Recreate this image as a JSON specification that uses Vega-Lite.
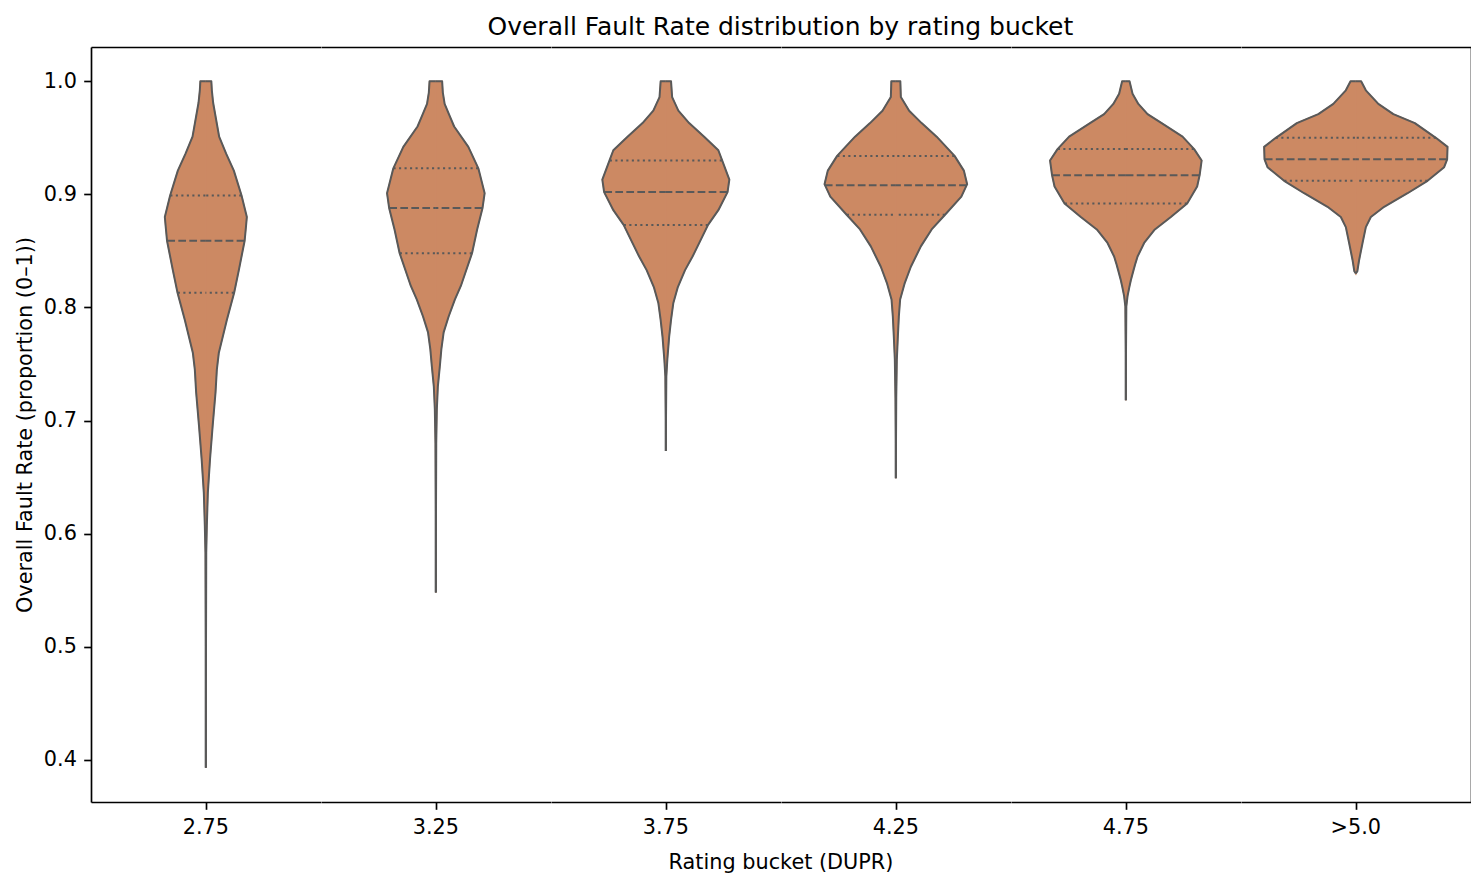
{
  "$schema": "https://vega.github.io/schema/vega-lite/v6.json",
  "padding": {"left": 14, "top": 14, "right": 0, "bottom": 0},
  "background": "white",
  "title": {
    "text": "Overall Fault Rate distribution by rating bucket",
    "fontSize": 25,
    "fontWeight": "normal",
    "color": "black",
    "anchor": "start",
    "frame": "group",
    "dx": 396.5,
    "baseline": "alphabetic",
    "offset": -12.5
  },
  "data": {
    "values": [
      {"b": "2.75", "k": "s", "i": 0, "v": 1.0, "w": 0},
      {"b": "2.75", "k": "s", "i": 1, "v": 1.0, "w": 5.5},
      {"b": "2.75", "k": "s", "i": 2, "v": 0.992, "w": 6},
      {"b": "2.75", "k": "s", "i": 3, "v": 0.981, "w": 7.3},
      {"b": "2.75", "k": "s", "i": 4, "v": 0.966, "w": 10.3},
      {"b": "2.75", "k": "s", "i": 5, "v": 0.951, "w": 13.3},
      {"b": "2.75", "k": "s", "i": 6, "v": 0.936, "w": 20.3},
      {"b": "2.75", "k": "s", "i": 7, "v": 0.921, "w": 28},
      {"b": "2.75", "k": "s", "i": 8, "v": 0.899, "w": 35.7},
      {"b": "2.75", "k": "s", "i": 9, "v": 0.880, "w": 41},
      {"b": "2.75", "k": "s", "i": 10, "v": 0.872, "w": 40.2},
      {"b": "2.75", "k": "s", "i": 11, "v": 0.859, "w": 38.8},
      {"b": "2.75", "k": "s", "i": 12, "v": 0.833, "w": 33},
      {"b": "2.75", "k": "s", "i": 13, "v": 0.813, "w": 28.3},
      {"b": "2.75", "k": "s", "i": 14, "v": 0.789, "w": 21},
      {"b": "2.75", "k": "s", "i": 15, "v": 0.760, "w": 13},
      {"b": "2.75", "k": "s", "i": 16, "v": 0.745, "w": 11},
      {"b": "2.75", "k": "s", "i": 17, "v": 0.725, "w": 9.7},
      {"b": "2.75", "k": "s", "i": 18, "v": 0.695, "w": 6.8},
      {"b": "2.75", "k": "s", "i": 19, "v": 0.666, "w": 4.2},
      {"b": "2.75", "k": "s", "i": 20, "v": 0.636, "w": 2},
      {"b": "2.75", "k": "s", "i": 21, "v": 0.607, "w": 1},
      {"b": "2.75", "k": "s", "i": 22, "v": 0.583, "w": 0.4},
      {"b": "2.75", "k": "s", "i": 23, "v": 0.500, "w": 0.15},
      {"b": "2.75", "k": "s", "i": 24, "v": 0.393, "w": 0},

      {"b": "3.25", "k": "s", "i": 0, "v": 1.0, "w": 0},
      {"b": "3.25", "k": "s", "i": 1, "v": 1.0, "w": 6.3},
      {"b": "3.25", "k": "s", "i": 2, "v": 0.990, "w": 7},
      {"b": "3.25", "k": "s", "i": 3, "v": 0.980, "w": 8.8},
      {"b": "3.25", "k": "s", "i": 4, "v": 0.970, "w": 13.5},
      {"b": "3.25", "k": "s", "i": 5, "v": 0.960, "w": 18.3},
      {"b": "3.25", "k": "s", "i": 6, "v": 0.942, "w": 32.5},
      {"b": "3.25", "k": "s", "i": 7, "v": 0.923, "w": 42.5},
      {"b": "3.25", "k": "s", "i": 8, "v": 0.901, "w": 48.8},
      {"b": "3.25", "k": "s", "i": 9, "v": 0.888, "w": 46.7},
      {"b": "3.25", "k": "s", "i": 10, "v": 0.869, "w": 41.3},
      {"b": "3.25", "k": "s", "i": 11, "v": 0.848, "w": 36.2},
      {"b": "3.25", "k": "s", "i": 12, "v": 0.819, "w": 25},
      {"b": "3.25", "k": "s", "i": 13, "v": 0.807, "w": 19},
      {"b": "3.25", "k": "s", "i": 14, "v": 0.792, "w": 12.8},
      {"b": "3.25", "k": "s", "i": 15, "v": 0.778, "w": 7.8},
      {"b": "3.25", "k": "s", "i": 16, "v": 0.763, "w": 5.5},
      {"b": "3.25", "k": "s", "i": 17, "v": 0.748, "w": 4},
      {"b": "3.25", "k": "s", "i": 18, "v": 0.730, "w": 2},
      {"b": "3.25", "k": "s", "i": 19, "v": 0.710, "w": 1},
      {"b": "3.25", "k": "s", "i": 20, "v": 0.680, "w": 0.4},
      {"b": "3.25", "k": "s", "i": 21, "v": 0.620, "w": 0.15},
      {"b": "3.25", "k": "s", "i": 22, "v": 0.548, "w": 0},

      {"b": "3.75", "k": "s", "i": 0, "v": 1.0, "w": 0},
      {"b": "3.75", "k": "s", "i": 1, "v": 1.0, "w": 5.2},
      {"b": "3.75", "k": "s", "i": 2, "v": 0.986, "w": 6.3},
      {"b": "3.75", "k": "s", "i": 3, "v": 0.974, "w": 12.5},
      {"b": "3.75", "k": "s", "i": 4, "v": 0.963, "w": 23.3},
      {"b": "3.75", "k": "s", "i": 5, "v": 0.951, "w": 38.3},
      {"b": "3.75", "k": "s", "i": 6, "v": 0.939, "w": 52.5},
      {"b": "3.75", "k": "s", "i": 7, "v": 0.930, "w": 56.3},
      {"b": "3.75", "k": "s", "i": 8, "v": 0.913, "w": 63.5},
      {"b": "3.75", "k": "s", "i": 9, "v": 0.902, "w": 61.7},
      {"b": "3.75", "k": "s", "i": 10, "v": 0.886, "w": 52.5},
      {"b": "3.75", "k": "s", "i": 11, "v": 0.873, "w": 42.2},
      {"b": "3.75", "k": "s", "i": 12, "v": 0.860, "w": 35},
      {"b": "3.75", "k": "s", "i": 13, "v": 0.845, "w": 26.7},
      {"b": "3.75", "k": "s", "i": 14, "v": 0.833, "w": 19.2},
      {"b": "3.75", "k": "s", "i": 15, "v": 0.818, "w": 12},
      {"b": "3.75", "k": "s", "i": 16, "v": 0.804, "w": 7.5},
      {"b": "3.75", "k": "s", "i": 17, "v": 0.789, "w": 5.2},
      {"b": "3.75", "k": "s", "i": 18, "v": 0.774, "w": 3.3},
      {"b": "3.75", "k": "s", "i": 19, "v": 0.754, "w": 1.5},
      {"b": "3.75", "k": "s", "i": 20, "v": 0.739, "w": 0.5},
      {"b": "3.75", "k": "s", "i": 21, "v": 0.700, "w": 0.15},
      {"b": "3.75", "k": "s", "i": 22, "v": 0.673, "w": 0},

      {"b": "4.25", "k": "s", "i": 0, "v": 1.0, "w": 0},
      {"b": "4.25", "k": "s", "i": 1, "v": 1.0, "w": 4.5},
      {"b": "4.25", "k": "s", "i": 2, "v": 0.986, "w": 5},
      {"b": "4.25", "k": "s", "i": 3, "v": 0.974, "w": 13.3},
      {"b": "4.25", "k": "s", "i": 4, "v": 0.963, "w": 25.8},
      {"b": "4.25", "k": "s", "i": 5, "v": 0.951, "w": 40.8},
      {"b": "4.25", "k": "s", "i": 6, "v": 0.934, "w": 58.7},
      {"b": "4.25", "k": "s", "i": 7, "v": 0.921, "w": 68},
      {"b": "4.25", "k": "s", "i": 8, "v": 0.909, "w": 71.3},
      {"b": "4.25", "k": "s", "i": 9, "v": 0.898, "w": 65.5},
      {"b": "4.25", "k": "s", "i": 10, "v": 0.882, "w": 49.2},
      {"b": "4.25", "k": "s", "i": 11, "v": 0.869, "w": 35.8},
      {"b": "4.25", "k": "s", "i": 12, "v": 0.854, "w": 25},
      {"b": "4.25", "k": "s", "i": 13, "v": 0.836, "w": 15},
      {"b": "4.25", "k": "s", "i": 14, "v": 0.821, "w": 8.7},
      {"b": "4.25", "k": "s", "i": 15, "v": 0.807, "w": 4.3},
      {"b": "4.25", "k": "s", "i": 16, "v": 0.792, "w": 3},
      {"b": "4.25", "k": "s", "i": 17, "v": 0.774, "w": 2},
      {"b": "4.25", "k": "s", "i": 18, "v": 0.754, "w": 1},
      {"b": "4.25", "k": "s", "i": 19, "v": 0.720, "w": 0.4},
      {"b": "4.25", "k": "s", "i": 20, "v": 0.680, "w": 0.15},
      {"b": "4.25", "k": "s", "i": 21, "v": 0.649, "w": 0},

      {"b": "4.75", "k": "s", "i": 0, "v": 1.0, "w": 0},
      {"b": "4.75", "k": "s", "i": 1, "v": 1.0, "w": 3.7},
      {"b": "4.75", "k": "s", "i": 2, "v": 0.989, "w": 6.7},
      {"b": "4.75", "k": "s", "i": 3, "v": 0.980, "w": 12.5},
      {"b": "4.75", "k": "s", "i": 4, "v": 0.971, "w": 21.7},
      {"b": "4.75", "k": "s", "i": 5, "v": 0.963, "w": 35.8},
      {"b": "4.75", "k": "s", "i": 6, "v": 0.951, "w": 56.7},
      {"b": "4.75", "k": "s", "i": 7, "v": 0.940, "w": 68.3},
      {"b": "4.75", "k": "s", "i": 8, "v": 0.930, "w": 75.8},
      {"b": "4.75", "k": "s", "i": 9, "v": 0.917, "w": 73.8},
      {"b": "4.75", "k": "s", "i": 10, "v": 0.907, "w": 71.3},
      {"b": "4.75", "k": "s", "i": 11, "v": 0.892, "w": 61.3},
      {"b": "4.75", "k": "s", "i": 12, "v": 0.880, "w": 45},
      {"b": "4.75", "k": "s", "i": 13, "v": 0.869, "w": 29},
      {"b": "4.75", "k": "s", "i": 14, "v": 0.857, "w": 18.3},
      {"b": "4.75", "k": "s", "i": 15, "v": 0.845, "w": 11.7},
      {"b": "4.75", "k": "s", "i": 16, "v": 0.839, "w": 9.6},
      {"b": "4.75", "k": "s", "i": 17, "v": 0.833, "w": 7.7},
      {"b": "4.75", "k": "s", "i": 18, "v": 0.824, "w": 5},
      {"b": "4.75", "k": "s", "i": 19, "v": 0.818, "w": 3.5},
      {"b": "4.75", "k": "s", "i": 20, "v": 0.810, "w": 1.7},
      {"b": "4.75", "k": "s", "i": 21, "v": 0.801, "w": 0.5},
      {"b": "4.75", "k": "s", "i": 22, "v": 0.760, "w": 0.15},
      {"b": "4.75", "k": "s", "i": 23, "v": 0.718, "w": 0},

      {"b": ">5.0", "k": "s", "i": 0, "v": 1.0, "w": 0},
      {"b": ">5.0", "k": "s", "i": 1, "v": 1.0, "w": 5.3},
      {"b": ">5.0", "k": "s", "i": 2, "v": 0.992, "w": 10},
      {"b": ">5.0", "k": "s", "i": 3, "v": 0.980, "w": 22.5},
      {"b": ">5.0", "k": "s", "i": 4, "v": 0.971, "w": 37.5},
      {"b": ">5.0", "k": "s", "i": 5, "v": 0.963, "w": 59},
      {"b": ">5.0", "k": "s", "i": 6, "v": 0.950, "w": 80},
      {"b": ">5.0", "k": "s", "i": 7, "v": 0.942, "w": 91.7},
      {"b": ">5.0", "k": "s", "i": 8, "v": 0.931, "w": 91.3},
      {"b": ">5.0", "k": "s", "i": 9, "v": 0.924, "w": 88.3},
      {"b": ">5.0", "k": "s", "i": 10, "v": 0.912, "w": 71.7},
      {"b": ">5.0", "k": "s", "i": 11, "v": 0.901, "w": 51.7},
      {"b": ">5.0", "k": "s", "i": 12, "v": 0.889, "w": 28.3},
      {"b": ">5.0", "k": "s", "i": 13, "v": 0.880, "w": 15},
      {"b": ">5.0", "k": "s", "i": 14, "v": 0.871, "w": 10},
      {"b": ">5.0", "k": "s", "i": 15, "v": 0.857, "w": 6.7},
      {"b": ">5.0", "k": "s", "i": 16, "v": 0.842, "w": 3.3},
      {"b": ">5.0", "k": "s", "i": 17, "v": 0.832, "w": 1.5},
      {"b": ">5.0", "k": "s", "i": 18, "v": 0.830, "w": 0},

      {"b": "2.75", "k": "q", "v": 0.899, "w": 35.5},
      {"b": "2.75", "k": "m", "v": 0.859, "w": 38.5},
      {"b": "2.75", "k": "q", "v": 0.813, "w": 28},
      {"b": "3.25", "k": "q", "v": 0.923, "w": 42.3},
      {"b": "3.25", "k": "m", "v": 0.888, "w": 46.5},
      {"b": "3.25", "k": "q", "v": 0.848, "w": 36},
      {"b": "3.75", "k": "q", "v": 0.930, "w": 56},
      {"b": "3.75", "k": "m", "v": 0.902, "w": 61.5},
      {"b": "3.75", "k": "q", "v": 0.873, "w": 42},
      {"b": "4.25", "k": "q", "v": 0.934, "w": 58.5},
      {"b": "4.25", "k": "m", "v": 0.908, "w": 71},
      {"b": "4.25", "k": "q", "v": 0.882, "w": 49},
      {"b": "4.75", "k": "q", "v": 0.940, "w": 68},
      {"b": "4.75", "k": "m", "v": 0.917, "w": 73.6},
      {"b": "4.75", "k": "q", "v": 0.892, "w": 61},
      {"b": ">5.0", "k": "q", "v": 0.950, "w": 80},
      {"b": ">5.0", "k": "m", "v": 0.931, "w": 91},
      {"b": ">5.0", "k": "q", "v": 0.912, "w": 71.5}
    ]
  },
  "facet": {
    "column": {
      "field": "b",
      "type": "nominal",
      "sort": ["2.75", "3.25", "3.75", "4.25", "4.75", ">5.0"],
      "header": {
        "title": "Rating bucket (DUPR)",
        "labelOrient": "bottom",
        "titleOrient": "bottom",
        "labelFontSize": 20.8,
        "titleFontSize": 20.8,
        "titleFontWeight": "normal",
        "labelColor": "black",
        "titleColor": "black",
        "labelPadding": 7.3,
        "titlePadding": 4
      }
    }
  },
  "spacing": 0,
  "resolve": {"scale": {"x": "independent"}},
  "spec": {
    "width": 229.67,
    "height": 755,
    "resolve": {
      "scale": {"x": "independent"},
      "axis": {"x": "independent", "y": "independent"}
    },
    "layer": [
      {
        "transform": [{"filter": "datum.k === 's' && datum.i > 0"}],
        "mark": {"type": "area", "orient": "horizontal", "color": "#cc8963", "opacity": 1, "stroke": "#cc8963", "strokeWidth": 1.2},
        "encoding": {
          "y": {
            "field": "v",
            "type": "quantitative",
            "scale": {"domain": [0.3627, 1.0303], "nice": false, "zero": false},
            "axis": {
              "values": [0.4, 0.5, 0.6, 0.7, 0.8, 0.9, 1.0],
              "format": ".1f",
              "title": "Overall Fault Rate (proportion (0–1))",
              "titleFontSize": 20.8,
              "titleFontWeight": "normal",
              "titleColor": "black",
              "titlePadding": 8.3,
              "labelFontSize": 20.8,
              "labelColor": "black",
              "labelPadding": 7.3,
              "tickSize": 7.3,
              "tickColor": "black",
              "tickWidth": 1.67,
              "domainColor": "black",
              "domainWidth": 1.67,
              "grid": false
            }
          },
          "x": {
            "field": "w",
            "type": "quantitative",
            "stack": "zero",
            "impute": null,
            "scale": {"domain": [-114.83, 114.83], "nice": false, "zero": false},
            "axis": {
              "orient": "bottom",
              "values": [0],
              "labels": false,
              "title": null,
              "tickSize": 7.3,
              "tickColor": "black",
              "tickWidth": 1.67,
              "domainColor": "black",
              "domainWidth": 1.67,
              "grid": false
            }
          }
        }
      },
      {
        "transform": [{"filter": "datum.k === 's' && datum.i > 0"}],
        "mark": {"type": "area", "orient": "horizontal", "color": "#cc8963", "opacity": 1, "stroke": "#cc8963", "strokeWidth": 1.2},
        "encoding": {
          "y": {
            "field": "v",
            "type": "quantitative",
            "scale": {"domain": [0.3627, 1.0303], "nice": false, "zero": false},
            "axis": {
              "orient": "right",
              "labels": false,
              "ticks": false,
              "title": null,
              "minExtent": 0,
              "domainColor": "black",
              "domainWidth": 1.67,
              "grid": false
            }
          },
          "x": {
            "field": "w",
            "type": "quantitative",
            "stack": "zero",
            "impute": null,
            "scale": {"domain": [-114.83, 114.83], "nice": false, "zero": false, "reverse": true},
            "axis": {
              "orient": "top",
              "labels": false,
              "ticks": false,
              "title": null,
              "minExtent": 0,
              "domainColor": "black",
              "domainWidth": 1.67,
              "grid": false
            }
          }
        }
      },
      {
        "transform": [{"filter": "datum.k === 's'"}],
        "mark": {"type": "line", "color": "#595959", "strokeWidth": 2, "strokeJoin": "round"},
        "encoding": {
          "y": {
            "field": "v",
            "type": "quantitative",
            "scale": {"domain": [0.3627, 1.0303], "nice": false, "zero": false},
            "axis": null
          },
          "x": {
            "field": "w",
            "type": "quantitative",
            "scale": {"domain": [-114.83, 114.83], "nice": false, "zero": false},
            "axis": null
          },
          "order": {"field": "i", "type": "quantitative"}
        }
      },
      {
        "transform": [{"filter": "datum.k === 's'"}],
        "mark": {"type": "line", "color": "#595959", "strokeWidth": 2, "strokeJoin": "round"},
        "encoding": {
          "y": {
            "field": "v",
            "type": "quantitative",
            "scale": {"domain": [0.3627, 1.0303], "nice": false, "zero": false},
            "axis": null
          },
          "x": {
            "field": "w",
            "type": "quantitative",
            "scale": {"domain": [-114.83, 114.83], "nice": false, "zero": false, "reverse": true},
            "axis": null
          },
          "order": {"field": "i", "type": "quantitative"}
        }
      },
      {
        "transform": [{"filter": "datum.k !== 's'"}],
        "mark": {"type": "rule", "color": "#595959", "strokeWidth": 2},
        "encoding": {
          "y": {
            "field": "v",
            "type": "quantitative",
            "scale": {"domain": [0.3627, 1.0303], "nice": false, "zero": false},
            "axis": null
          },
          "x": {
            "field": "w",
            "type": "quantitative",
            "scale": {"domain": [-114.83, 114.83], "nice": false, "zero": false},
            "axis": null
          },
          "x2": {"datum": 0},
          "strokeDash": {
            "field": "k",
            "type": "nominal",
            "scale": {"domain": ["m", "q"], "range": [[7.7, 3.3], [2.1, 3.4]]},
            "legend": null
          }
        }
      },
      {
        "transform": [{"filter": "datum.k !== 's'"}],
        "mark": {"type": "rule", "color": "#595959", "strokeWidth": 2},
        "encoding": {
          "y": {
            "field": "v",
            "type": "quantitative",
            "scale": {"domain": [0.3627, 1.0303], "nice": false, "zero": false},
            "axis": null
          },
          "x": {
            "field": "w",
            "type": "quantitative",
            "scale": {"domain": [-114.83, 114.83], "nice": false, "zero": false, "reverse": true},
            "axis": null
          },
          "x2": {"datum": 0},
          "strokeDash": {
            "field": "k",
            "type": "nominal",
            "scale": {"domain": ["m", "q"], "range": [[7.7, 3.3], [2.1, 3.4]]},
            "legend": null
          }
        }
      }
    ]
  },
  "config": {
    "font": "DejaVu Sans",
    "view": {"stroke": null}
  }
}
